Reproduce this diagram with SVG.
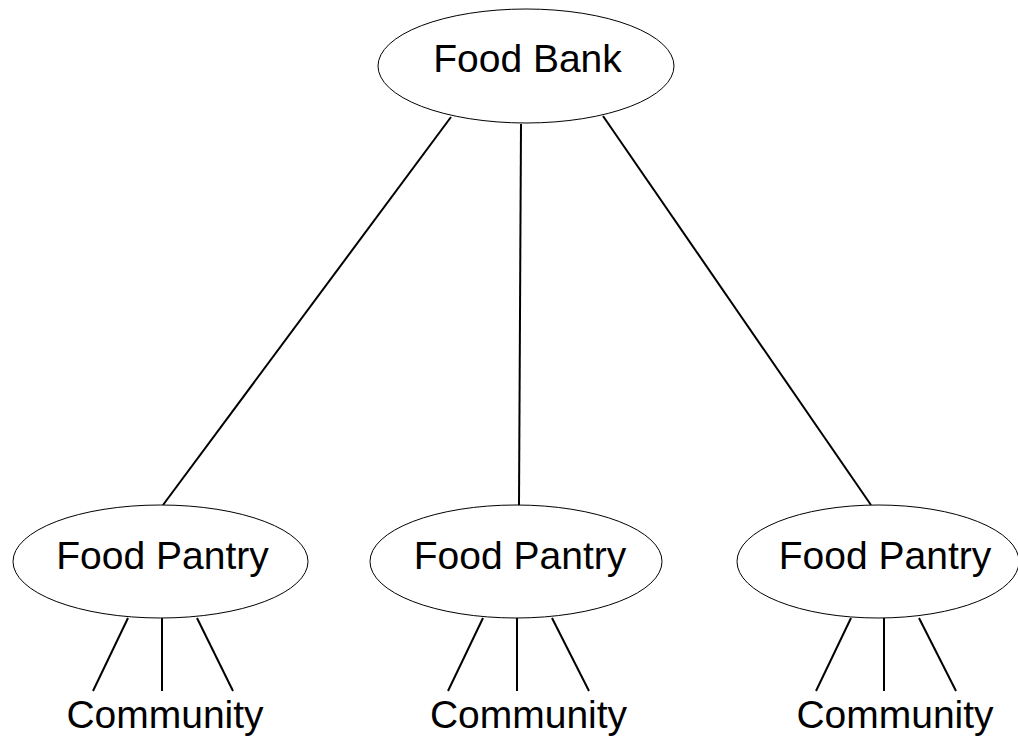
<svg xmlns="http://www.w3.org/2000/svg" width="1018" height="741" viewBox="0 0 1018 741">
<style>
.node ellipse{fill:#fff;stroke:#000;stroke-width:1}
text{font-family:"Liberation Sans",Arial,sans-serif;font-size:39px;fill:#000;text-anchor:middle}
.edges line{stroke:#000;stroke-width:2}
</style>
<rect width="1018" height="741" fill="#fff"/>
<g class="edges" id="connectors">
<line x1="451" y1="117" x2="163" y2="505"/>
<line x1="521" y1="124" x2="519" y2="505"/>
<line x1="603" y1="116" x2="871" y2="505"/>
<line x1="128" y1="618" x2="93" y2="691"/>
<line x1="162" y1="618" x2="162" y2="691"/>
<line x1="197" y1="618" x2="233" y2="691"/>
<line x1="483" y1="618" x2="448" y2="691"/>
<line x1="517" y1="618" x2="517" y2="691"/>
<line x1="552" y1="618" x2="589" y2="691"/>
<line x1="851" y1="618" x2="816" y2="691"/>
<line x1="884" y1="618" x2="884" y2="691"/>
<line x1="919" y1="618" x2="956" y2="691"/>
</g>
<g class="node" id="food-bank"><ellipse cx="526" cy="66" rx="148" ry="57"/><text x="527.5" y="72">Food Bank</text></g>
<g class="node" id="pantry-1"><ellipse cx="160.5" cy="561.5" rx="147.5" ry="56.5"/><text x="162.5" y="569">Food Pantry</text></g>
<g class="node" id="pantry-2"><ellipse cx="516" cy="561.5" rx="146" ry="56.5"/><text x="520" y="569">Food Pantry</text></g>
<g class="node" id="pantry-3"><ellipse cx="878" cy="561.5" rx="141" ry="56.5"/><text x="885" y="569">Food Pantry</text></g>
<g class="node" id="community-1"><text x="165" y="728">Community</text></g>
<g class="node" id="community-2"><text x="528.5" y="728">Community</text></g>
<g class="node" id="community-3"><text x="895" y="728">Community</text></g>
</svg>
